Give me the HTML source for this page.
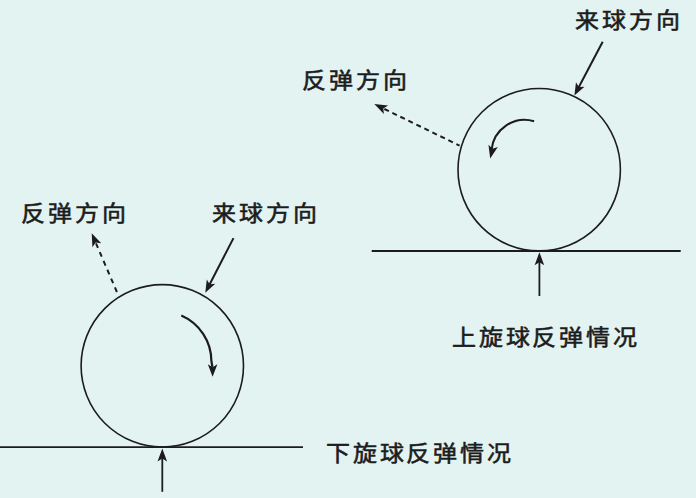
<!DOCTYPE html>
<html lang="zh-CN">
<head>
<meta charset="utf-8">
<style>
html,body{margin:0;padding:0;}
body{width:696px;height:498px;background:#e3f3f2;position:relative;overflow:hidden;font-family:"Liberation Sans",sans-serif;color:#1c1c1c;}
.t{position:absolute;font-size:24px;line-height:24px;letter-spacing:3.1px;white-space:nowrap;-webkit-text-stroke:0.6px #1c1c1c;transform:scaleY(0.91);transform-origin:0 50%;}
svg{position:absolute;left:0;top:0;}
</style>
</head>
<body>
<svg width="696" height="498" viewBox="0 0 696 498">
<g fill="none" stroke="#1c1c1c" stroke-width="1.8">
<circle cx="539.2" cy="169.7" r="81.2" stroke-width="1.6"/>
<line x1="371.7" y1="251" x2="680.7" y2="251" stroke-width="1.8"/>
<line x1="539.4" y1="296" x2="539.40" y2="261.20" stroke-width="1.8"/>
<line x1="602.7" y1="41.8" x2="578.60" y2="87.54" stroke-width="2"/>
<line x1="459.6" y1="145.6" x2="383.29" y2="108.47" stroke-width="2" stroke-dasharray="5 3.9" stroke-dashoffset="1.4"/>
<path d="M534.1,121.2 A33.3,33.3 0 0 0 491.5,150" stroke-width="2.1"/>
<circle cx="162.3" cy="365.8" r="81.2" stroke-width="1.6"/>
<line x1="0" y1="447.2" x2="303" y2="447.2" stroke-width="1.8"/>
<line x1="162.3" y1="491.8" x2="162.30" y2="457.60" stroke-width="1.8"/>
<line x1="233.5" y1="238.1" x2="209.43" y2="284.70" stroke-width="2"/>
<line x1="116.9" y1="292" x2="95.64" y2="242.49" stroke-width="2" stroke-dasharray="5 4.6"/>
<path d="M181.3,315.5 A50,50 0 0 1 211.4,361.2 L212.4,367" stroke-width="2.2"/>
</g>
<g fill="#1c1c1c" stroke="none">
<polygon points="539.40,252.20 544.20,265.20 539.40,262.20 534.60,265.20"/>
<polygon points="574.40,95.50 575.98,82.20 578.83,87.10 584.47,86.68"/>
<polygon points="374.30,104.10 388.09,105.47 383.29,108.47 383.89,114.10"/>
<polygon points="490.20,158.60 488.47,144.85 492.47,148.86 497.82,147.03"/>
<polygon points="162.30,448.60 167.10,461.60 162.30,458.60 157.50,461.60"/>
<polygon points="205.30,292.70 206.77,279.39 209.66,284.26 215.30,283.80"/>
<polygon points="91.70,233.30 101.24,243.35 95.64,242.49 92.42,247.14"/>
<polygon points="212.60,376.80 207.80,364.30 212.60,367.30 217.40,364.30"/>
</g>
</svg>
<div class="t" style="left:575px;top:9px;">来球方向</div>
<div class="t" style="left:302px;top:68.5px;">反弹方向</div>
<div class="t" style="left:452px;top:326px;letter-spacing:2.75px;">上旋球反弹情况</div>
<div class="t" style="left:21px;top:202px;">反弹方向</div>
<div class="t" style="left:212px;top:202px;">来球方向</div>
<div class="t" style="left:326px;top:442px;letter-spacing:2.75px;">下旋球反弹情况</div>
</body>
</html>
